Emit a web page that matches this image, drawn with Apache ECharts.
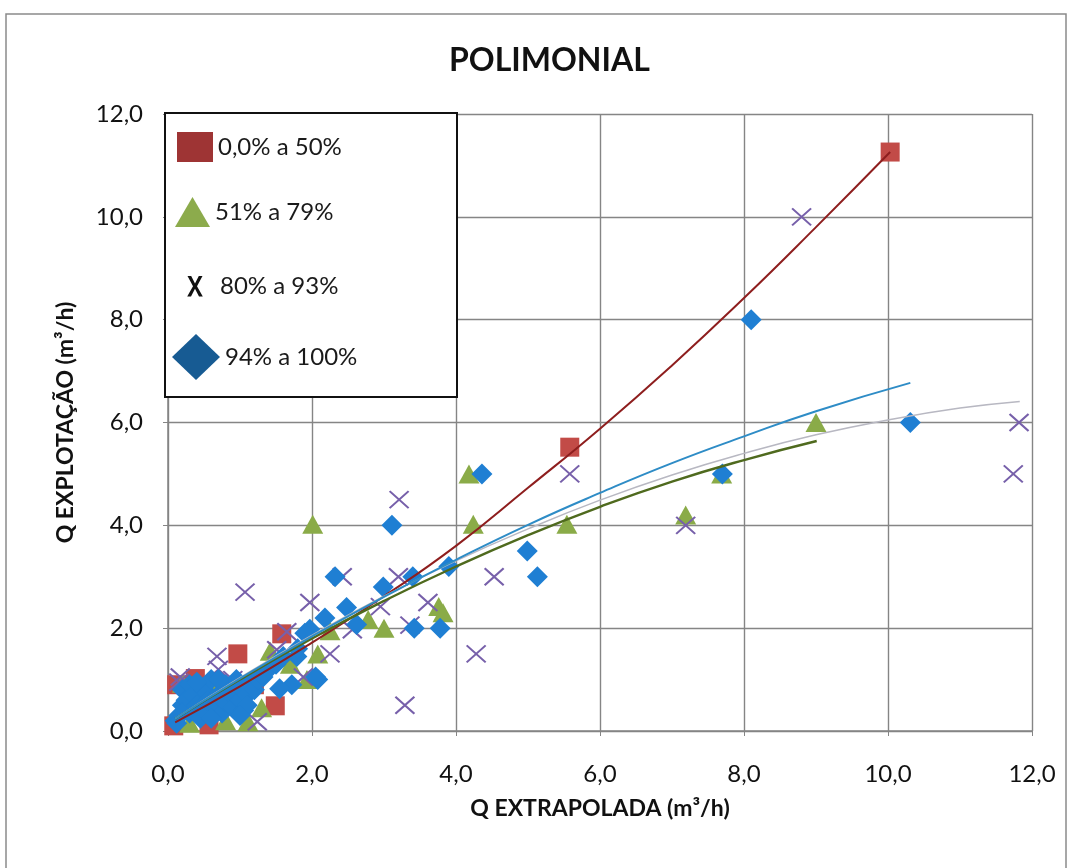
<!DOCTYPE html>
<html>
<head>
<meta charset="utf-8">
<script src="https://cdn.jsdelivr.net/npm/echarts@6/dist/echarts.min.js"></script>
<style>
  html, body { margin: 0; padding: 0; background: #fff; }
  #chart { width: 1071px; height: 868px; }
</style>
</head>
<body>
<div id="chart"></div>
<script>
// Series names
const seriesNames = ['0,0% a 50%', '51% a 79%', '80% a 93%', '94% a 100%'];

// Axis ticks
const axisTicks = [0, 2, 4, 6, 8, 10, 12];

// [Q extrapolada, Q explotação] pairs, m³/h
const pts050 = [
  [10.03, 11.26], [5.58, 5.52], [1.58, 1.89], [0.97, 1.50], [1.49, 0.49],
  [0.38, 1.02], [0.12, 0.90], [0.57, 0.12], [0.08, 0.10], [0.30, 0.45],
  [0.75, 0.70], [1.20, 0.90]
];
const pts5179 = [
  [9.00, 6.00], [7.69, 5.00], [7.19, 4.20], [5.54, 4.02], [4.18, 5.00],
  [4.24, 4.02], [2.01, 4.02], [3.76, 2.42], [3.82, 2.30], [3.00, 2.00],
  [2.78, 2.17], [2.08, 1.50], [1.93, 1.00], [1.11, 0.18], [1.42, 1.55],
  [0.20, 0.93], [0.55, 0.95], [0.90, 0.55], [1.30, 0.45], [0.30, 0.15],
  [1.70, 1.30], [2.25, 1.95], [0.80, 0.20]
];
const pts8093 = [
  [8.80, 10.00], [11.82, 6.00], [11.74, 5.00], [7.19, 4.00], [5.58, 5.00],
  [3.21, 4.50], [4.53, 3.00], [4.28, 1.50], [3.29, 0.50], [3.61, 2.50],
  [2.95, 2.42], [3.20, 3.00], [2.42, 3.00], [1.97, 2.50], [2.25, 1.50],
  [1.07, 2.70], [0.68, 1.45], [0.70, 1.20], [0.17, 1.05], [1.24, 0.18],
  [1.65, 1.93], [1.51, 1.58], [1.88, 1.05], [2.56, 1.97], [0.15, 0.95],
  [0.90, 1.00], [3.36, 2.06]
];
const pts94100 = [
  [10.31, 6.00], [8.10, 8.00], [7.70, 5.00], [4.99, 3.50], [5.13, 3.00],
  [4.36, 5.00], [3.11, 4.00], [3.90, 3.20], [3.78, 2.00], [3.42, 2.00],
  [3.40, 3.00], [2.99, 2.80], [2.32, 3.00], [2.48, 2.40], [2.18, 2.20],
  [2.62, 2.07], [1.97, 1.98], [2.08, 1.00], [1.72, 0.90], [1.55, 0.82],
  [1.79, 1.45], [1.32, 1.05], [2.05, 1.05], [1.90, 1.90],
  [0.10, 0.20], [0.15, 0.30], [0.20, 0.50], [0.20, 0.80], [0.25, 0.60],
  [0.30, 0.35], [0.30, 0.90], [0.35, 0.70], [0.40, 0.50], [0.45, 0.25],
  [0.50, 0.80], [0.50, 0.40], [0.55, 0.60], [0.60, 1.00], [0.65, 0.50],
  [0.70, 0.70], [0.75, 0.35], [0.80, 0.90], [0.80, 0.55], [0.85, 0.75],
  [0.90, 0.45], [0.95, 1.00], [1.00, 0.60], [1.00, 0.85], [1.05, 0.40],
  [1.10, 0.70], [1.15, 0.95], [1.20, 0.80], [1.25, 1.00], [1.30, 1.10],
  [1.40, 1.20], [0.20, 0.35], [0.12, 0.15], [0.40, 0.95], [0.70, 1.00],
  [1.10, 0.50], [1.00, 0.30], [0.60, 0.25], [1.50, 1.30], [1.60, 1.45],
  [1.80, 1.60]
];

// Polynomial trend curves, one per class
const trend050 = [
  [0.10, 0.17], [1, 0.87], [2, 1.72], [3, 2.62], [4, 3.60], [5, 4.73],
  [6, 5.88], [7, 7.11], [8, 8.42], [9, 9.80], [10.03, 11.26]
];
const trend5179 = [
  [0.10, 0.24], [1, 1.00], [2, 1.80], [3, 2.53], [4, 3.20], [5, 3.81],
  [6, 4.36], [7, 4.85], [8, 5.27], [9.01, 5.64]
];
const trend8093 = [
  [0.10, 0.24], [1, 1.04], [2, 1.86], [3, 2.62], [4, 3.31], [5, 3.93],
  [6, 4.49], [7, 4.98], [8, 5.40], [9, 5.76], [10, 6.05], [11, 6.28], [11.83, 6.41]
];
const trend94100 = [
  [0.10, 0.24], [1, 1.02], [2, 1.84], [3, 2.61], [4, 3.33], [5, 4.01],
  [6, 4.63], [7, 5.21], [8, 5.73], [9, 6.22], [10.31, 6.77]
];

const FONT = 'Lato, "Open Sans", sans-serif';
const fmt = v => v.toFixed(1).replace('.', ',');

// Thin stroked X marker
const xMarker = 'path://M0,0L10,10M10,0L0,10';
// Letter-like X for the legend, padded to a 28x22 box
const xLegend = 'path://M0,0L0,0M28,22L28,22M0.5,1L4.2,1L8,8.6L11.8,1L15.5,1L10,11.2L15.8,21.5L12,21.5L8,13.8L4,21.5L0.2,21.5L6,11.2Z';

const lineBase = { type: 'line', showSymbol: false, symbol: 'none', smooth: true, z: 10, silent: true, tooltip: { show: false } };

const legendText = { fontFamily: FONT, fontSize: 24, color: '#1a1a1a' };
function legendFor(name, left, top, w, h, icon, color) {
  return {
    data: [{ name, icon, itemStyle: { color, borderWidth: 0 } }],
    left, top, itemWidth: w, itemHeight: h, padding: 0,
    selectedMode: false, z: 20, textStyle: legendText
  };
}

const chart = echarts.init(document.getElementById('chart'), null, { renderer: 'canvas' });
chart.setOption({
  animation: false,
  backgroundColor: '#ffffff',
  title: {
    text: 'POLIMONIAL',
    left: 444,
    top: 40,
    textStyle: { fontFamily: FONT, fontSize: 32, fontWeight: 'bold', color: '#111' }
  },
  grid: { left: 168, right: 39, top: 114, bottom: 137 },
  graphic: [
    { type: 'rect', z: -1, silent: true, shape: { x: 6, y: 14, width: 1060, height: 900 },
      style: { fill: 'none', stroke: '#8a8a8a', lineWidth: 1.5 } },
    { type: 'rect', z: 15, silent: true, shape: { x: 165, y: 113, width: 292, height: 284 },
      style: { fill: '#ffffff', stroke: '#111', lineWidth: 2 } }
  ],
  legend: [
    legendFor(seriesNames[0], 177, 132, 36, 30, 'rect', '#9e3434'),
    legendFor(seriesNames[1], 175, 197, 35, 30, 'triangle', '#8cab4c'),
    legendFor(seriesNames[2], 187, 274, 28, 22, xLegend, '#111111'),
    legendFor(seriesNames[3], 172, 334, 48, 46, 'diamond', '#175b93')
  ],
  xAxis: {
    type: 'value', min: 0, max: 12, interval: 2,
    name: 'Q EXTRAPOLADA (m³/h)', nameLocation: 'middle', nameGap: 66, nameMoveOverlap: false,
    nameTextStyle: { fontFamily: FONT, fontSize: 23, fontWeight: 'bold', color: '#111' },
    axisLine: { show: true, lineStyle: { color: '#858585', width: 1.5 } },
    axisTick: { show: true, length: 5, lineStyle: { color: '#858585' } },
    axisLabel: { margin: 31, fontFamily: FONT, fontSize: 24, color: '#111', formatter: fmt,
      customValues: axisTicks },
    splitLine: { show: true, lineStyle: { color: '#858585', width: 1.4 } }
  },
  yAxis: {
    type: 'value', min: 0, max: 12, interval: 2,
    name: 'Q EXPLOTAÇÃO (m³/h)', nameLocation: 'middle', nameGap: 91, nameMoveOverlap: false,
    nameTextStyle: { fontFamily: FONT, fontSize: 23, fontWeight: 'bold', color: '#111' },
    axisLine: { show: true, lineStyle: { color: '#858585', width: 1.5 } },
    axisTick: { show: true, length: 5, lineStyle: { color: '#858585' } },
    axisLabel: { margin: 25, fontFamily: FONT, fontSize: 24, color: '#111', formatter: fmt,
      customValues: axisTicks },
    splitLine: { show: true, lineStyle: { color: '#858585', width: 1.4 } }
  },
  series: [
    { name: seriesNames[0], type: 'scatter', symbol: 'rect', symbolSize: 19, z: 2,
      itemStyle: { color: '#c24b47', opacity: 1 }, data: pts050 },
    { name: seriesNames[1], type: 'scatter', symbol: 'triangle', symbolSize: [21, 19], z: 3,
      itemStyle: { color: '#8aab48', opacity: 1 }, data: pts5179 },
    { name: seriesNames[2], type: 'scatter', symbol: xMarker, symbolSize: [19, 17], z: 4,
      itemStyle: { color: 'rgba(0,0,0,0)', borderColor: '#7760aa', borderWidth: 2, opacity: 1 }, data: pts8093 },
    { name: seriesNames[3], type: 'scatter', symbol: 'diamond', symbolSize: 21, z: 5,
      itemStyle: { color: '#1f7fd3', opacity: 1 }, data: pts94100 },
    Object.assign({}, lineBase, { name: 'trend050', data: trend050, lineStyle: { color: '#8e1e1e', width: 2 } }),
    Object.assign({}, lineBase, { name: 'trend5179', data: trend5179, lineStyle: { color: '#4f6a1e', width: 2.4 } }),
    Object.assign({}, lineBase, { name: 'trend8093', data: trend8093, lineStyle: { color: '#b8b8c2', width: 1.5 } }),
    Object.assign({}, lineBase, { name: 'trend94100', data: trend94100, lineStyle: { color: '#2e8cc6', width: 2 } })
  ]
});
</script>
</body>
</html>
